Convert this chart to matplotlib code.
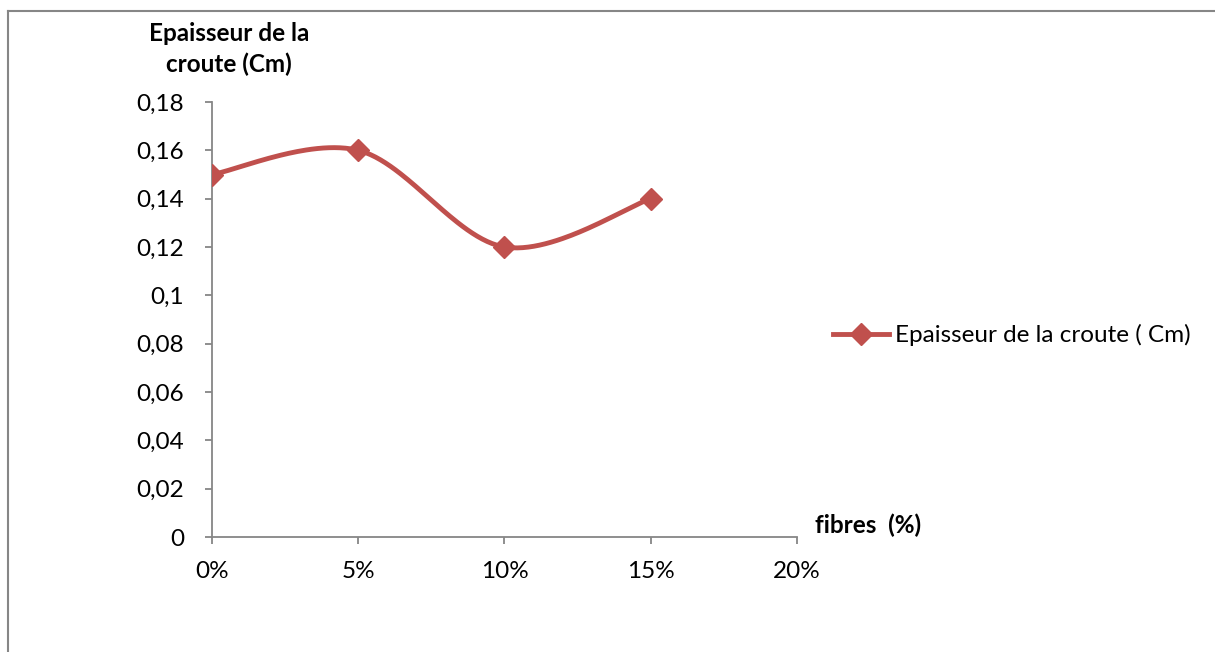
import numpy as np
import matplotlib
matplotlib.use("Agg")
import matplotlib.pyplot as plt
from matplotlib.lines import Line2D
from matplotlib.ticker import FuncFormatter, MultipleLocator

plt.rcParams['font.family'] = ['Lato', 'DejaVu Sans']

# Fibre content (%) and crust thickness (cm)
fibres = [0, 5, 10, 15]
epaisseur = [0.15, 0.16, 0.12, 0.14]
series_label = "Epaisseur de la croute ( Cm)"
y_title = "Epaisseur de la\ncroute (Cm)"
x_title = "fibres  (%)"

RED = "#C0504D"
GREY = "#868686"


def smooth_curve(xs, ys, n=60):
    """Cubic Bezier smoothing through every point (Catmull-Rom style tangents)."""
    p = np.column_stack([xs, ys]).astype(float)
    ext = np.vstack([p[0], p, p[-1]])
    out = []
    t = np.linspace(0, 1, n)[:, None]
    for i in range(len(p) - 1):
        p0, p1 = ext[i + 1], ext[i + 2]
        b1 = p0 + (ext[i + 2] - ext[i]) / 6.0
        b2 = p1 - (ext[i + 3] - ext[i + 1]) / 6.0
        seg = ((1 - t) ** 3) * p0 + 3 * ((1 - t) ** 2) * t * b1 + 3 * (1 - t) * t ** 2 * b2 + t ** 3 * p1
        out.append(seg if i == 0 else seg[1:])
    out = np.vstack(out)
    return out[:, 0], out[:, 1]


fig = plt.figure(figsize=(12.15, 6.52), dpi=100)
ax = fig.add_axes([212 / 1215, 1 - 537 / 652, (797 - 212) / 1215, (537 - 102) / 652])

sx, sy = smooth_curve(fibres, epaisseur)
ax.plot(sx, sy, color=RED, lw=3.5, solid_capstyle='round', zorder=3)
ax.plot(fibres, epaisseur, ls='none', marker='D', ms=11, color=RED, zorder=4)

ax.set_xlim(0, 20)
ax.set_ylim(0, 0.18)
ax.xaxis.set_major_locator(MultipleLocator(5))
ax.yaxis.set_major_locator(MultipleLocator(0.02))
ax.xaxis.set_major_formatter(FuncFormatter(lambda v, _: f"{v:.0f}%"))


def fr_fmt(v, _):
    s = f"{v:.2f}".rstrip('0').rstrip('.')
    return s.replace('.', ',')


ax.yaxis.set_major_formatter(FuncFormatter(fr_fmt))

for side in ('top', 'right'):
    ax.spines[side].set_visible(False)
for side in ('left', 'bottom'):
    ax.spines[side].set_color(GREY)
    ax.spines[side].set_linewidth(1.3)
ax.tick_params(axis='both', direction='out', length=5, width=1.3, color=GREY,
               labelsize=17.5, labelcolor='black')
ax.tick_params(axis='y', pad=15)
ax.tick_params(axis='x', pad=12)

fig.text(229 / 1215, 1 - 49 / 652, y_title, ha='center', va='center',
         fontsize=17.5, fontweight='bold', linespacing=1.35)
fig.text(868 / 1215, 1 - 525 / 652, x_title, ha='center', va='center',
         fontsize=17.5, fontweight='bold')

handle = Line2D([], [], color=RED, lw=3.5, marker='D', ms=11)
fig.legend([handle], [series_label], loc='center left',
           bbox_to_anchor=(823 / 1215, 1 - 335 / 652), frameon=False,
           fontsize=17.5, handlelength=2.3, handletextpad=0.25, borderaxespad=0)

# outer chart frame
fig.add_artist(Line2D([8 / 1215, 1.0], [1 - 11 / 652, 1 - 11 / 652],
                      transform=fig.transFigure, color=GREY, lw=1.5))
fig.add_artist(Line2D([8 / 1215, 8 / 1215], [1 - 11 / 652, 0.0],
                      transform=fig.transFigure, color=GREY, lw=1.5))

fig.savefig("out.png", dpi=100, facecolor='white')
